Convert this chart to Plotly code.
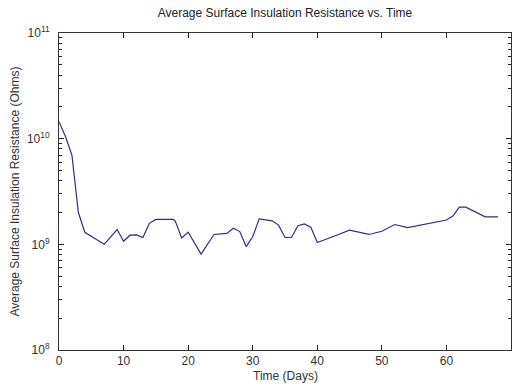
import plotly.graph_objects as go

days = [0, 1, 2, 3, 4, 7, 9, 10, 11, 12, 13, 14, 15, 17.7, 18, 19, 20, 22, 24, 26, 27, 28, 29, 30, 31,
        33, 34, 35, 36, 37, 38, 39, 40, 42, 43, 45, 48, 50, 52, 54, 56, 60, 61, 62, 63, 66, 68]
resistance = [1.45e10, 1.05e10, 7.0e9, 2.0e9, 1.3e9, 1.0e9, 1.38e9, 1.07e9, 1.22e9, 1.23e9, 1.16e9,
              1.58e9, 1.72e9, 1.72e9, 1.66e9, 1.15e9, 1.3e9, 8.1e8, 1.24e9, 1.27e9, 1.42e9, 1.32e9,
              9.5e8, 1.18e9, 1.74e9, 1.67e9, 1.52e9, 1.16e9, 1.16e9, 1.5e9, 1.56e9, 1.45e9, 1.04e9,
              1.17e9, 1.22e9, 1.36e9, 1.24e9, 1.33e9, 1.54e9, 1.44e9, 1.52e9, 1.7e9, 1.85e9, 2.25e9,
              2.25e9, 1.82e9, 1.82e9]

x_ticks = [0, 10, 20, 30, 40, 50, 60, 70]
y_ticks = [1e8, 1e9, 1e10, 1e11]
y_tick_text = ["10<sup>8</sup>", "10<sup>9</sup>", "10<sup>10</sup>", "10<sup>11</sup>"]
minor_mult = [2, 3, 4, 5, 6, 7, 8, 9]
y_minor = [m * d for d in [1e8, 1e9, 1e10] for m in minor_mult]

title_text = "Average Surface Insulation Resistance vs. Time"
x_title = "Time (Days)"
y_title = "Average Surface Insulation Resistance (Ohms)"

font = "Liberation Sans, Arial, sans-serif"
axc = "#333333"
tkc = "#222222"

fig = go.Figure()
fig.add_trace(go.Scatter(x=days, y=resistance, mode="lines",
                         line=dict(color="#2e2e88", width=1.2), showlegend=False))
# invisible helper traces so the minor-tick axes are drawn
for ax in ["y2", "y3"]:
    fig.add_trace(go.Scatter(x=days[:1], y=resistance[:1], yaxis=ax, mode="lines",
                             line=dict(width=0), opacity=0, hoverinfo="skip", showlegend=False))

fig.update_layout(
    width=517, height=386,
    margin=dict(l=59, r=6, t=33, b=36),
    paper_bgcolor="white", plot_bgcolor="white",
    font=dict(family=font, size=12, color=axc),
    title=dict(text=title_text, x=(59 + 511) / 2 / 517, xanchor="center",
               y=1 - 13 / 386, yanchor="middle",
               font=dict(family=font, size=12, color="#222222")),
    yaxis2=dict(type="log", range=[8, 11], overlaying="y", side="left", tickvals=y_minor,
                ticks="inside", ticklen=3, tickwidth=1, tickcolor=tkc, showticklabels=False,
                showgrid=False, zeroline=False, showline=False),
    yaxis3=dict(type="log", range=[8, 11], overlaying="y", side="right", tickvals=y_minor,
                ticks="inside", ticklen=3, tickwidth=1, tickcolor=tkc, showticklabels=False,
                showgrid=False, zeroline=False, showline=False),
)
fig.update_xaxes(range=[0, 70], tickvals=x_ticks, ticks="inside", ticklen=5, tickwidth=1, tickcolor=tkc,
                 showline=True, linecolor=axc, linewidth=1, mirror="ticks", showgrid=False,
                 zeroline=False, tickfont=dict(size=12, color=axc))
fig.update_layout(yaxis=dict(type="log", range=[8, 11], tickvals=y_ticks, ticktext=y_tick_text,
                             ticks="inside", ticklen=5, tickwidth=1, tickcolor=tkc, ticklabelstandoff=6,
                             showline=True, linecolor=axc, linewidth=1, mirror="ticks", showgrid=False,
                             zeroline=False, tickfont=dict(size=12, color=axc)))

fig.add_annotation(text=x_title, xref="paper", yref="paper", x=0.5, y=-26 / 317,
                   showarrow=False, yanchor="middle", font=dict(size=12, color=axc))
fig.add_annotation(text=y_title, xref="paper", yref="paper", x=-45 / 452, y=0.5, textangle=-90,
                   showarrow=False, xanchor="center", font=dict(size=12, color=axc))

fig.write_html("out.html")
